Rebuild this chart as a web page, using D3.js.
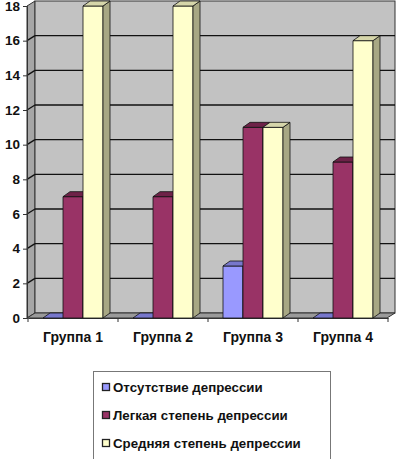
<!DOCTYPE html>
<html>
<head>
<meta charset="utf-8">
<script src="https://cdn.jsdelivr.net/npm/d3@7"></script>
<style>
  body { margin: 0; background: #fff; }
  svg { display: block; font-family: "Liberation Sans", Arial, sans-serif; }
</style>
</head>
<body>
<svg id="chart" width="397" height="459"></svg>
<script>
// data
const categories = ["Группа 1", "Группа 2", "Группа 3", "Группа 4"];
const seriesNames = ["Отсутствие депрессии", "Легкая степень депрессии", "Средняя степень депрессии"];
const absentValues = [0, 0, 3, 0];
const mildValues = [7, 7, 11, 9];
const moderateValues = [18, 18, 11, 16];
const yTicks = [0, 2, 4, 6, 8, 10, 12, 14, 16, 18];

const seriesValues = [absentValues, mildValues, moderateValues];
const fronts = ["#9999ff", "#993366", "#ffffcc"];
const tops = ["#7777cc", "#6e2248", "#d6d6aa"];
const sides = ["#6666aa", "#5e1d3e", "#a8a884"];

const svg = d3.select("#chart");

// 3d depth offsets
const dx = 8, dy = -5;
const bdx = 7, bdy = -5;

const x0 = 28, x1 = 388;
var y = d3.scaleLinear().domain([0, 18]).range([318, 6]);

var x = d3.scaleBand().domain(categories).range([x0, x1]);
var xs = d3.scaleBand().domain(d3.range(3)).range([0, x.bandwidth()])
    .paddingInner(0).paddingOuter(0.75);

const poly = pts => pts.map(p => p.join(",")).join(" ");

// left side wall
svg.append("polygon")
    .attr("points", poly([[x0 - 1, y(0)], [x0 - 1 + dx, y(0) + dy], [x0 - 1 + dx, y(18) + dy], [x0 - 1, y(18)]]))
    .attr("fill", "#a6a6a6").attr("stroke", "#333").attr("stroke-width", 1);

// back wall
svg.append("rect")
    .attr("x", x0 - 1 + dx).attr("y", y(18) + dy)
    .attr("width", 395 - (x0 - 1 + dx)).attr("height", y(0) - y(18))
    .attr("fill", "#c2c2c2").attr("stroke", "#333").attr("stroke-width", 1);

// floor
svg.append("polygon")
    .attr("points", poly([[x0 - 1, y(0)], [x0 - 1 + dx, y(0) + dy], [395, y(0) + dy], [395 - dx, y(0)]]))
    .attr("fill", "#9a9a9a").attr("stroke", "#333").attr("stroke-width", 1);

// gridlines on walls
const grid = svg.append("g");
yTicks.filter(t => t > 0 && t < 18).forEach(t => {
    grid.append("line")
        .attr("x1", x0 - 1 + dx).attr("x2", 395)
        .attr("y1", y(t) + dy).attr("y2", y(t) + dy)
        .attr("stroke", "#111").attr("stroke-width", 1.3);
    grid.append("line")
        .attr("x1", x0 - 1).attr("x2", x0 - 1 + dx)
        .attr("y1", y(t)).attr("y2", y(t) + dy)
        .attr("stroke", "#111").attr("stroke-width", 1.3);
});

// y axis
var yAxis = d3.axisLeft(y).tickValues(yTicks).tickSize(4).tickPadding(3);
const ya = svg.append("g")
    .attr("transform", `translate(${x0 - 1},0)`)
    .call(yAxis);
ya.select(".domain").attr("stroke", "#333");
ya.selectAll("line").attr("stroke", "#333");
ya.selectAll("text").attr("font-size", 13.5).attr("font-weight", "bold")
    .attr("fill", "#111").attr("font-family", "Liberation Sans, Arial, sans-serif");

// x axis
var xAxis = d3.axisBottom(x).tickSize(0).tickPadding(14);
const xa = svg.append("g")
    .attr("transform", `translate(0,${y(0)})`)
    .call(xAxis);
xa.select(".domain").attr("stroke", "#333");
xa.selectAll("text").attr("font-size", 14).attr("font-weight", "bold")
    .attr("fill", "#111").attr("font-family", "Liberation Sans, Arial, sans-serif");
d3.range(categories.length + 1).forEach(i => {
    xa.append("line")
        .attr("x1", x0 + i * x.step()).attr("x2", x0 + i * x.step())
        .attr("y1", 0).attr("y2", 4).attr("stroke", "#333");
});

// bars
const bars = svg.append("g");
categories.forEach((c, ci) => {
    seriesValues.forEach((vals, si) => {
        const v = vals[ci];
        const bx = x(c) + xs(si), bw = xs.bandwidth();
        const yt = y(v), yb = y(0);
        const g = bars.append("g").attr("stroke", "#111").attr("stroke-width", 0.8)
            .attr("stroke-linejoin", "round");
        if (v > 0) {
            g.append("rect").attr("x", bx).attr("y", yt).attr("width", bw).attr("height", yb - yt)
                .attr("fill", fronts[si]);
            g.append("polygon")
                .attr("points", poly([[bx + bw, yt], [bx + bw + bdx, yt + bdy], [bx + bw + bdx, yb + bdy], [bx + bw, yb]]))
                .attr("fill", sides[si]);
        }
        g.append("polygon")
            .attr("points", poly([[bx, yt], [bx + bdx, yt + bdy], [bx + bw + bdx, yt + bdy], [bx + bw, yt]]))
            .attr("fill", tops[si]);
    });
});

// legend
const lg = svg.append("g");
lg.append("rect").attr("x", 93.5).attr("y", 371.5).attr("width", 237).attr("height", 88)
    .attr("fill", "#fff").attr("stroke", "#777");
seriesNames.forEach((n, i) => {
    const ly = 387 + i * 28;
    lg.append("rect").attr("x", 102.5).attr("y", ly - 3.5).attr("width", 7).attr("height", 7)
        .attr("fill", fronts[i]).attr("stroke", "#222").attr("stroke-width", 1.3);
    lg.append("text").attr("x", 113).attr("y", ly).attr("dy", "0.35em")
        .attr("font-size", 13.3).attr("font-weight", "bold").attr("fill", "#111")
        .text(n);
});
</script>
</body>
</html>
